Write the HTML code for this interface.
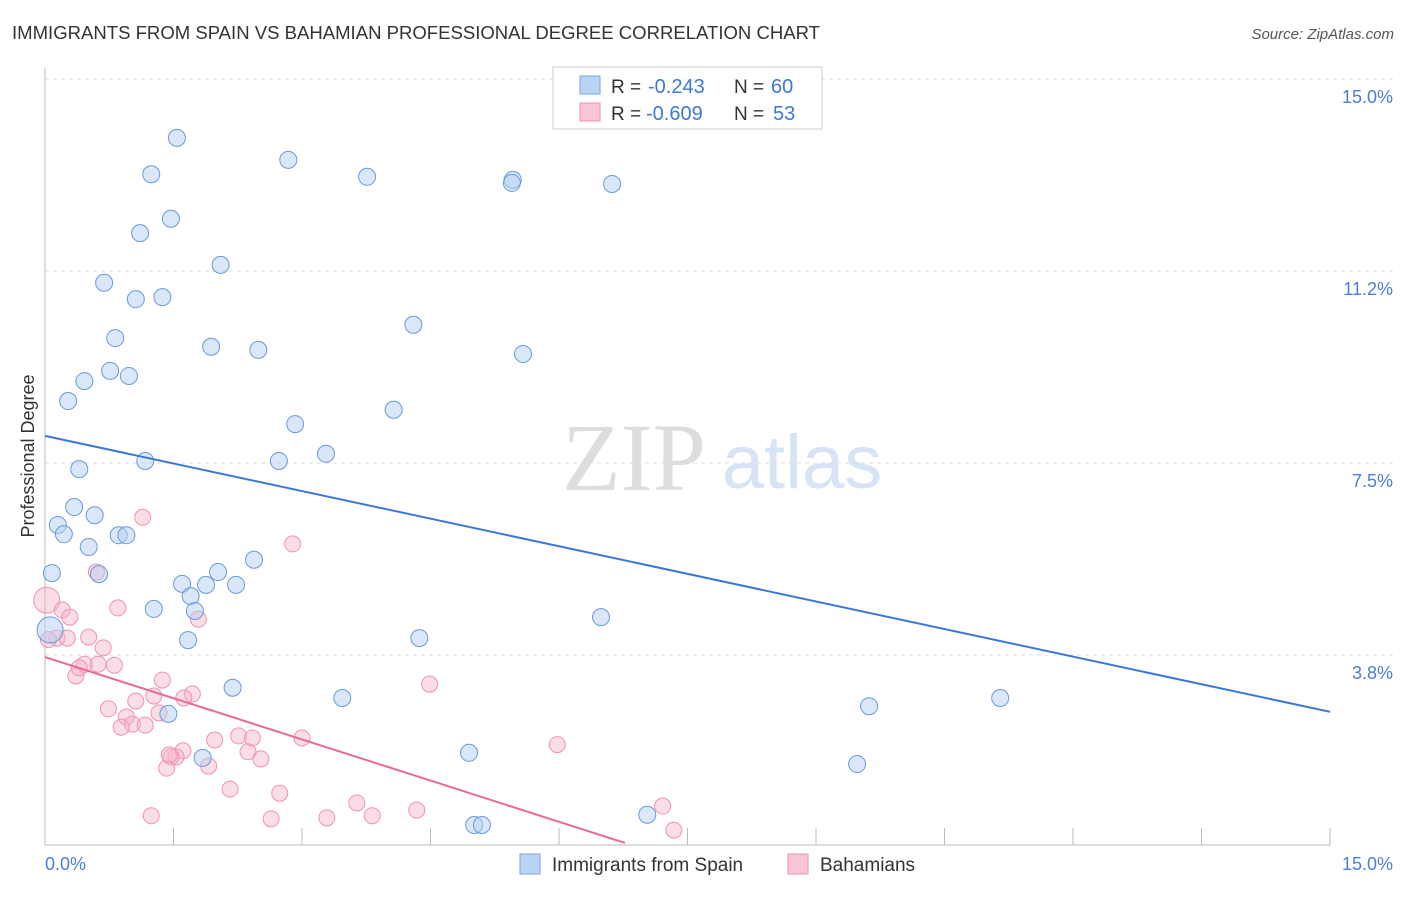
<!DOCTYPE html>
<html><head><meta charset="utf-8"><style>
body{margin:0;background:#fff;font-family:"Liberation Sans",sans-serif;}
svg text{font-family:"Liberation Sans",sans-serif;}
</style></head><body>
<svg width="1406" height="892" xmlns="http://www.w3.org/2000/svg">
<text x="12" y="39" font-size="18" fill="#333" textLength="808" lengthAdjust="spacingAndGlyphs">IMMIGRANTS FROM SPAIN VS BAHAMIAN PROFESSIONAL DEGREE CORRELATION CHART</text>
<text x="1394" y="39" font-size="15" fill="#555" font-style="italic" text-anchor="end">Source: ZipAtlas.com</text>
<g>
<text x="634" y="490" font-size="96" fill="#ddd" style="font-family:'Liberation Serif',serif" text-anchor="middle">ZIP</text>
<text x="802" y="488" font-size="76" fill="#d6e4f5" text-anchor="middle">atlas</text></g>
<g id="grid"></g>
<line x1="45" y1="68" x2="45" y2="845" stroke="#bbb"/>
<line x1="45" y1="845" x2="1330" y2="845" stroke="#bbb"/>
<text transform="translate(34,456) rotate(-90)" font-size="18" fill="#333" text-anchor="middle">Professional Degree</text>
<text x="45" y="870" font-size="18" fill="#4a7fd4">0.0%</text>
<text x="1393" y="870" font-size="18" fill="#4a7fd4" text-anchor="end">15.0%</text>
<g id="pts"></g>
<g id="trend"></g>
<g>
<rect x="553" y="67" width="269" height="62" fill="#fff" stroke="#ccc"/>
<rect x="580" y="76" width="20" height="18" fill="#b8d3f3" stroke="#7aa6e0"/>
<rect x="580" y="103" width="20" height="18" fill="#f9c6d6" stroke="#ee93b0"/>
<text x="611" y="93" font-size="19" fill="#333">R =</text>
<text x="648" y="93" font-size="20" fill="#3c78d8">-0.243</text>
<text x="734" y="93" font-size="19" fill="#333">N =</text>
<text x="771" y="93" font-size="20" fill="#3c78d8">60</text>
<text x="611" y="120" font-size="19" fill="#333">R =</text>
<text x="646" y="120" font-size="20" fill="#3c78d8">-0.609</text>
<text x="734" y="120" font-size="19" fill="#333">N =</text>
<text x="773" y="120" font-size="20" fill="#3c78d8">53</text>
</g>
<g>
<rect x="520" y="854" width="20" height="20" fill="#b8d3f3" stroke="#7aa6e0"/>
<text x="552" y="871" font-size="19" fill="#333">Immigrants from Spain</text>
<rect x="788" y="854" width="20" height="20" fill="#f9c6d6" stroke="#ee93b0"/>
<text x="820" y="871" font-size="19" fill="#333">Bahamians</text>
</g>
</svg>
<script>
const yTicks=[3.75,7.5,11.25,15];
const yTickLabels=["3.8%","7.5%","11.2%","15.0%"];
const xTicks=[0,1.5,3,4.5,6,7.5,9,10.5,12,13.5,15];
const blueX=[1.54,2.84,1.24,3.76,5.46,5.45,6.62,1.47,1.11,2.05,0.69,1.06,1.37,4.30,0.82,1.94,2.49,5.58,0.76,0.98,0.46,0.27,4.07,2.92,3.28,2.73,1.17,0.40,0.34,0.58,0.15,0.22,0.86,0.95,0.51,2.44,0.08,0.63,2.02,1.60,1.88,2.23,1.70,1.27,1.75,6.49,4.37,1.67,2.19,3.47,11.15,9.62,1.44,4.95,1.84,9.48,5.01,5.10,7.03,0.06];
const blueY=[13.85,13.42,13.14,13.09,13.03,12.97,12.95,12.27,11.99,11.37,11.02,10.70,10.74,10.20,9.94,9.77,9.71,9.63,9.30,9.20,9.10,8.71,8.54,8.26,7.68,7.54,7.54,7.38,6.64,6.48,6.29,6.11,6.09,6.09,5.86,5.61,5.35,5.33,5.37,5.14,5.12,5.12,4.90,4.65,4.61,4.49,4.08,4.04,3.11,2.91,2.91,2.75,2.60,1.84,1.74,1.62,0.43,0.43,0.63,4.24];
const pinkX=[0.02,0.20,0.29,0.14,0.26,1.14,2.89,0.60,0.85,1.79,0.51,0.68,0.46,0.62,0.81,0.36,1.37,1.27,1.72,1.62,4.49,1.06,0.74,0.95,1.02,1.17,0.89,1.33,1.98,2.26,2.42,3.00,2.37,1.61,1.53,1.47,2.52,1.42,1.91,5.98,2.16,2.74,3.64,4.34,7.21,1.24,2.64,3.29,3.82,7.34,0.04,0.40,1.45];
const pinkY=[4.82,4.63,4.49,4.08,4.08,6.44,5.92,5.37,4.67,4.45,4.10,3.89,3.57,3.57,3.55,3.34,3.26,2.95,2.99,2.91,3.18,2.85,2.70,2.54,2.40,2.38,2.34,2.62,2.09,2.17,2.13,2.13,1.86,1.88,1.76,1.76,1.72,1.54,1.58,2.00,1.13,1.05,0.86,0.72,0.80,0.61,0.55,0.57,0.61,0.33,4.05,3.50,1.80];
const blueTrend=[8.03,2.64];
const pinkTrend=[3.71,0.08,6.77];
const X=v=>45+v*85.667, Y=v=>847-v*51.2;
const ns="http://www.w3.org/2000/svg";
const grid=document.getElementById('grid');
yTicks.forEach((t,i)=>{
 const l=document.createElementNS(ns,'line');
 l.setAttribute('x1',45);l.setAttribute('x2',1393);l.setAttribute('y1',Y(t));l.setAttribute('y2',Y(t));
 l.setAttribute('stroke','#ddd');l.setAttribute('stroke-dasharray','4,4');
 
 
 grid.appendChild(l);
 const tx=document.createElementNS(ns,'text');
 tx.setAttribute('x',1393);tx.setAttribute('y',Y(t)+24);tx.setAttribute('text-anchor','end');
 tx.setAttribute('font-size','18');tx.setAttribute('fill','#4a7fd4');tx.textContent=yTickLabels[i];
 
 
 grid.appendChild(tx);
});
xTicks.forEach(t=>{
 const l=document.createElementNS(ns,'line');
 l.setAttribute('x1',X(t));l.setAttribute('x2',X(t));l.setAttribute('y1',828);l.setAttribute('y2',845);
 l.setAttribute('stroke','#bbb');
 
 
 grid.appendChild(l);
});
const pts=document.getElementById('pts');
function dot(x,y,fill,stroke,name,r){
 const c=document.createElementNS(ns,'circle');
 c.setAttribute('cx',X(x));c.setAttribute('cy',Y(y));c.setAttribute('r',r);
 c.setAttribute('fill',fill);c.setAttribute('stroke',stroke);c.setAttribute('stroke-width','1');
 
 
 pts.appendChild(c);
}
pinkX.forEach((x,i)=>dot(x,pinkY[i],'rgba(246,180,202,0.45)','#ee93b0','bahamians-point',i==0?13:8));
blueX.forEach((x,i)=>dot(x,blueY[i],'rgba(180,208,243,0.5)','#6a9ad8','spain-point',i==59?13:8.5));
const tr=document.getElementById('trend');
function line(x1,y1,x2,y2,col,name){
 const l=document.createElementNS(ns,'line');
 l.setAttribute('x1',X(x1));l.setAttribute('y1',Y(y1));l.setAttribute('x2',X(x2));l.setAttribute('y2',Y(y2));
 l.setAttribute('stroke',col);l.setAttribute('stroke-width','2');
 
 
 tr.appendChild(l);
}
line(0,blueTrend[0],15,blueTrend[1],'#3a78d8','spain-trendline');
line(0,pinkTrend[0],pinkTrend[2],pinkTrend[1],'#e8699a','bahamians-trendline');
</script>
</body></html>
